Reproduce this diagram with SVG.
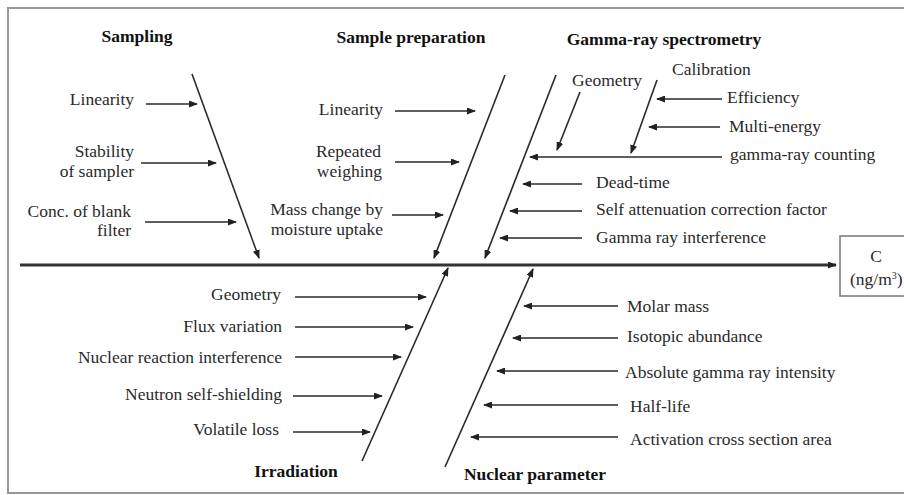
<svg xmlns="http://www.w3.org/2000/svg" width="904" height="495" viewBox="0 0 904 495">
<defs>
<marker id="ah" markerWidth="9" markerHeight="7" refX="8" refY="3.5" orient="auto" markerUnits="userSpaceOnUse">
<path d="M0,0 L9,3.5 L0,7 Z" fill="#222"/>
</marker>
<style>
text{font-family:"Liberation Serif","Times New Roman",serif;font-size:17.5px;fill:#2a2a2a}
.h{font-weight:bold;text-anchor:middle;fill:#111}
.r{text-anchor:end}
.c{text-anchor:middle}
.a{stroke:#2a2a2a;stroke-width:1.6;fill:none;marker-end:url(#ah)}
.l{stroke:#2a2a2a;stroke-width:1.6;fill:none}
</style>
</defs>
<rect x="0" y="0" width="904" height="495" fill="#fff"/>
<rect id="frame" x="8" y="8" width="910" height="485" fill="none" stroke="#999" stroke-width="2"/>

<g id="connectors">
<line class="a" x1="20" y1="265" x2="836" y2="265" style="stroke-width:3.2;stroke:#333"/>
<line class="a" x1="192" y1="74" x2="259" y2="258"/>
<line class="a" x1="505" y1="75" x2="434" y2="258"/>
<line class="a" x1="556" y1="75" x2="485" y2="258"/>
<line class="a" x1="362" y1="461" x2="448" y2="268"/>
<line class="a" x1="445" y1="467" x2="533" y2="269"/>
<line class="a" x1="146" y1="104" x2="197" y2="104"/>
<line class="a" x1="141" y1="163" x2="216" y2="163"/>
<line class="a" x1="145" y1="222" x2="236" y2="222"/>
<line class="a" x1="395" y1="111" x2="475" y2="111"/>
<line class="a" x1="395" y1="162" x2="459" y2="162"/>
<line class="a" x1="392" y1="215" x2="443" y2="215"/>
<line class="a" x1="580" y1="92" x2="557" y2="150"/>
<line class="a" x1="657" y1="80" x2="631" y2="153"/>
<line class="a" x1="722" y1="99" x2="657" y2="99"/>
<line class="a" x1="720" y1="127" x2="649" y2="127"/>
<line class="a" x1="722" y1="157" x2="530" y2="157"/>
<line class="a" x1="582" y1="184" x2="523" y2="184"/>
<line class="a" x1="582" y1="211" x2="510" y2="211"/>
<line class="a" x1="582" y1="238" x2="500" y2="238"/>
<line class="a" x1="295" y1="297" x2="426" y2="297"/>
<line class="a" x1="295" y1="327" x2="413" y2="327"/>
<line class="a" x1="295" y1="357" x2="401" y2="357"/>
<line class="a" x1="293" y1="396" x2="382" y2="396"/>
<line class="a" x1="293" y1="432" x2="370" y2="432"/>
<line class="a" x1="618" y1="306" x2="524" y2="306"/>
<line class="a" x1="618" y1="338" x2="513" y2="338"/>
<line class="a" x1="618" y1="371" x2="497" y2="371"/>
<line class="a" x1="618" y1="405" x2="484" y2="405"/>
<line class="a" x1="618" y1="437" x2="471" y2="437"/>
</g>

<g id="sampling">
<text class="h" x="137" y="42">Sampling</text>
<text class="r" x="134" y="105">Linearity</text>
<text class="r" x="134" y="157">Stability</text>
<text class="r" x="134" y="177">of sampler</text>
<text class="r" x="131" y="217">Conc. of blank</text>
<text class="r" x="131" y="236">filter</text>
</g>

<g id="sample-preparation">
<text class="h" x="411" y="43">Sample preparation</text>
<text class="r" x="383" y="115">Linearity</text>
<text class="r" x="381" y="157">Repeated</text>
<text class="r" x="382" y="177">weighing</text>
<text class="r" x="383" y="215">Mass change by</text>
<text class="r" x="383" y="235">moisture uptake</text>
</g>

<g id="gamma-ray-spectrometry">
<text class="h" x="664" y="45">Gamma-ray spectrometry</text>
<text x="572" y="86">Geometry</text>
<text x="672" y="75">Calibration</text>
<text x="727" y="103">Efficiency</text>
<text x="729" y="132">Multi-energy</text>
<text x="730" y="160">gamma-ray counting</text>
<text x="596" y="188">Dead-time</text>
<text x="596" y="215">Self attenuation correction factor</text>
<text x="596" y="243">Gamma ray interference</text>
</g>

<g id="irradiation">
<text class="h" x="296" y="477">Irradiation</text>
<text class="r" x="281" y="300">Geometry</text>
<text class="r" x="282" y="332">Flux variation</text>
<text class="r" x="282" y="363">Nuclear reaction interference</text>
<text class="r" x="282" y="400">Neutron self-shielding</text>
<text class="r" x="279" y="435">Volatile loss</text>
</g>

<g id="nuclear-parameter">
<text class="h" x="535" y="480">Nuclear parameter</text>
<text x="627" y="312">Molar mass</text>
<text x="627" y="342">Isotopic abundance</text>
<text x="625" y="378">Absolute gamma ray intensity</text>
<text x="630" y="412">Half-life</text>
<text x="630" y="445">Activation cross section area</text>
</g>

<g id="result">
<rect x="840" y="236" width="80" height="60" fill="#fff" stroke="#777" stroke-width="1.5"/>
<text class="c" x="876" y="262">C</text>
<text x="850" y="285">(ng/m<tspan dy="-6" style="font-size:10px">3</tspan><tspan dy="6">)</tspan></text>
</g>
</svg>
